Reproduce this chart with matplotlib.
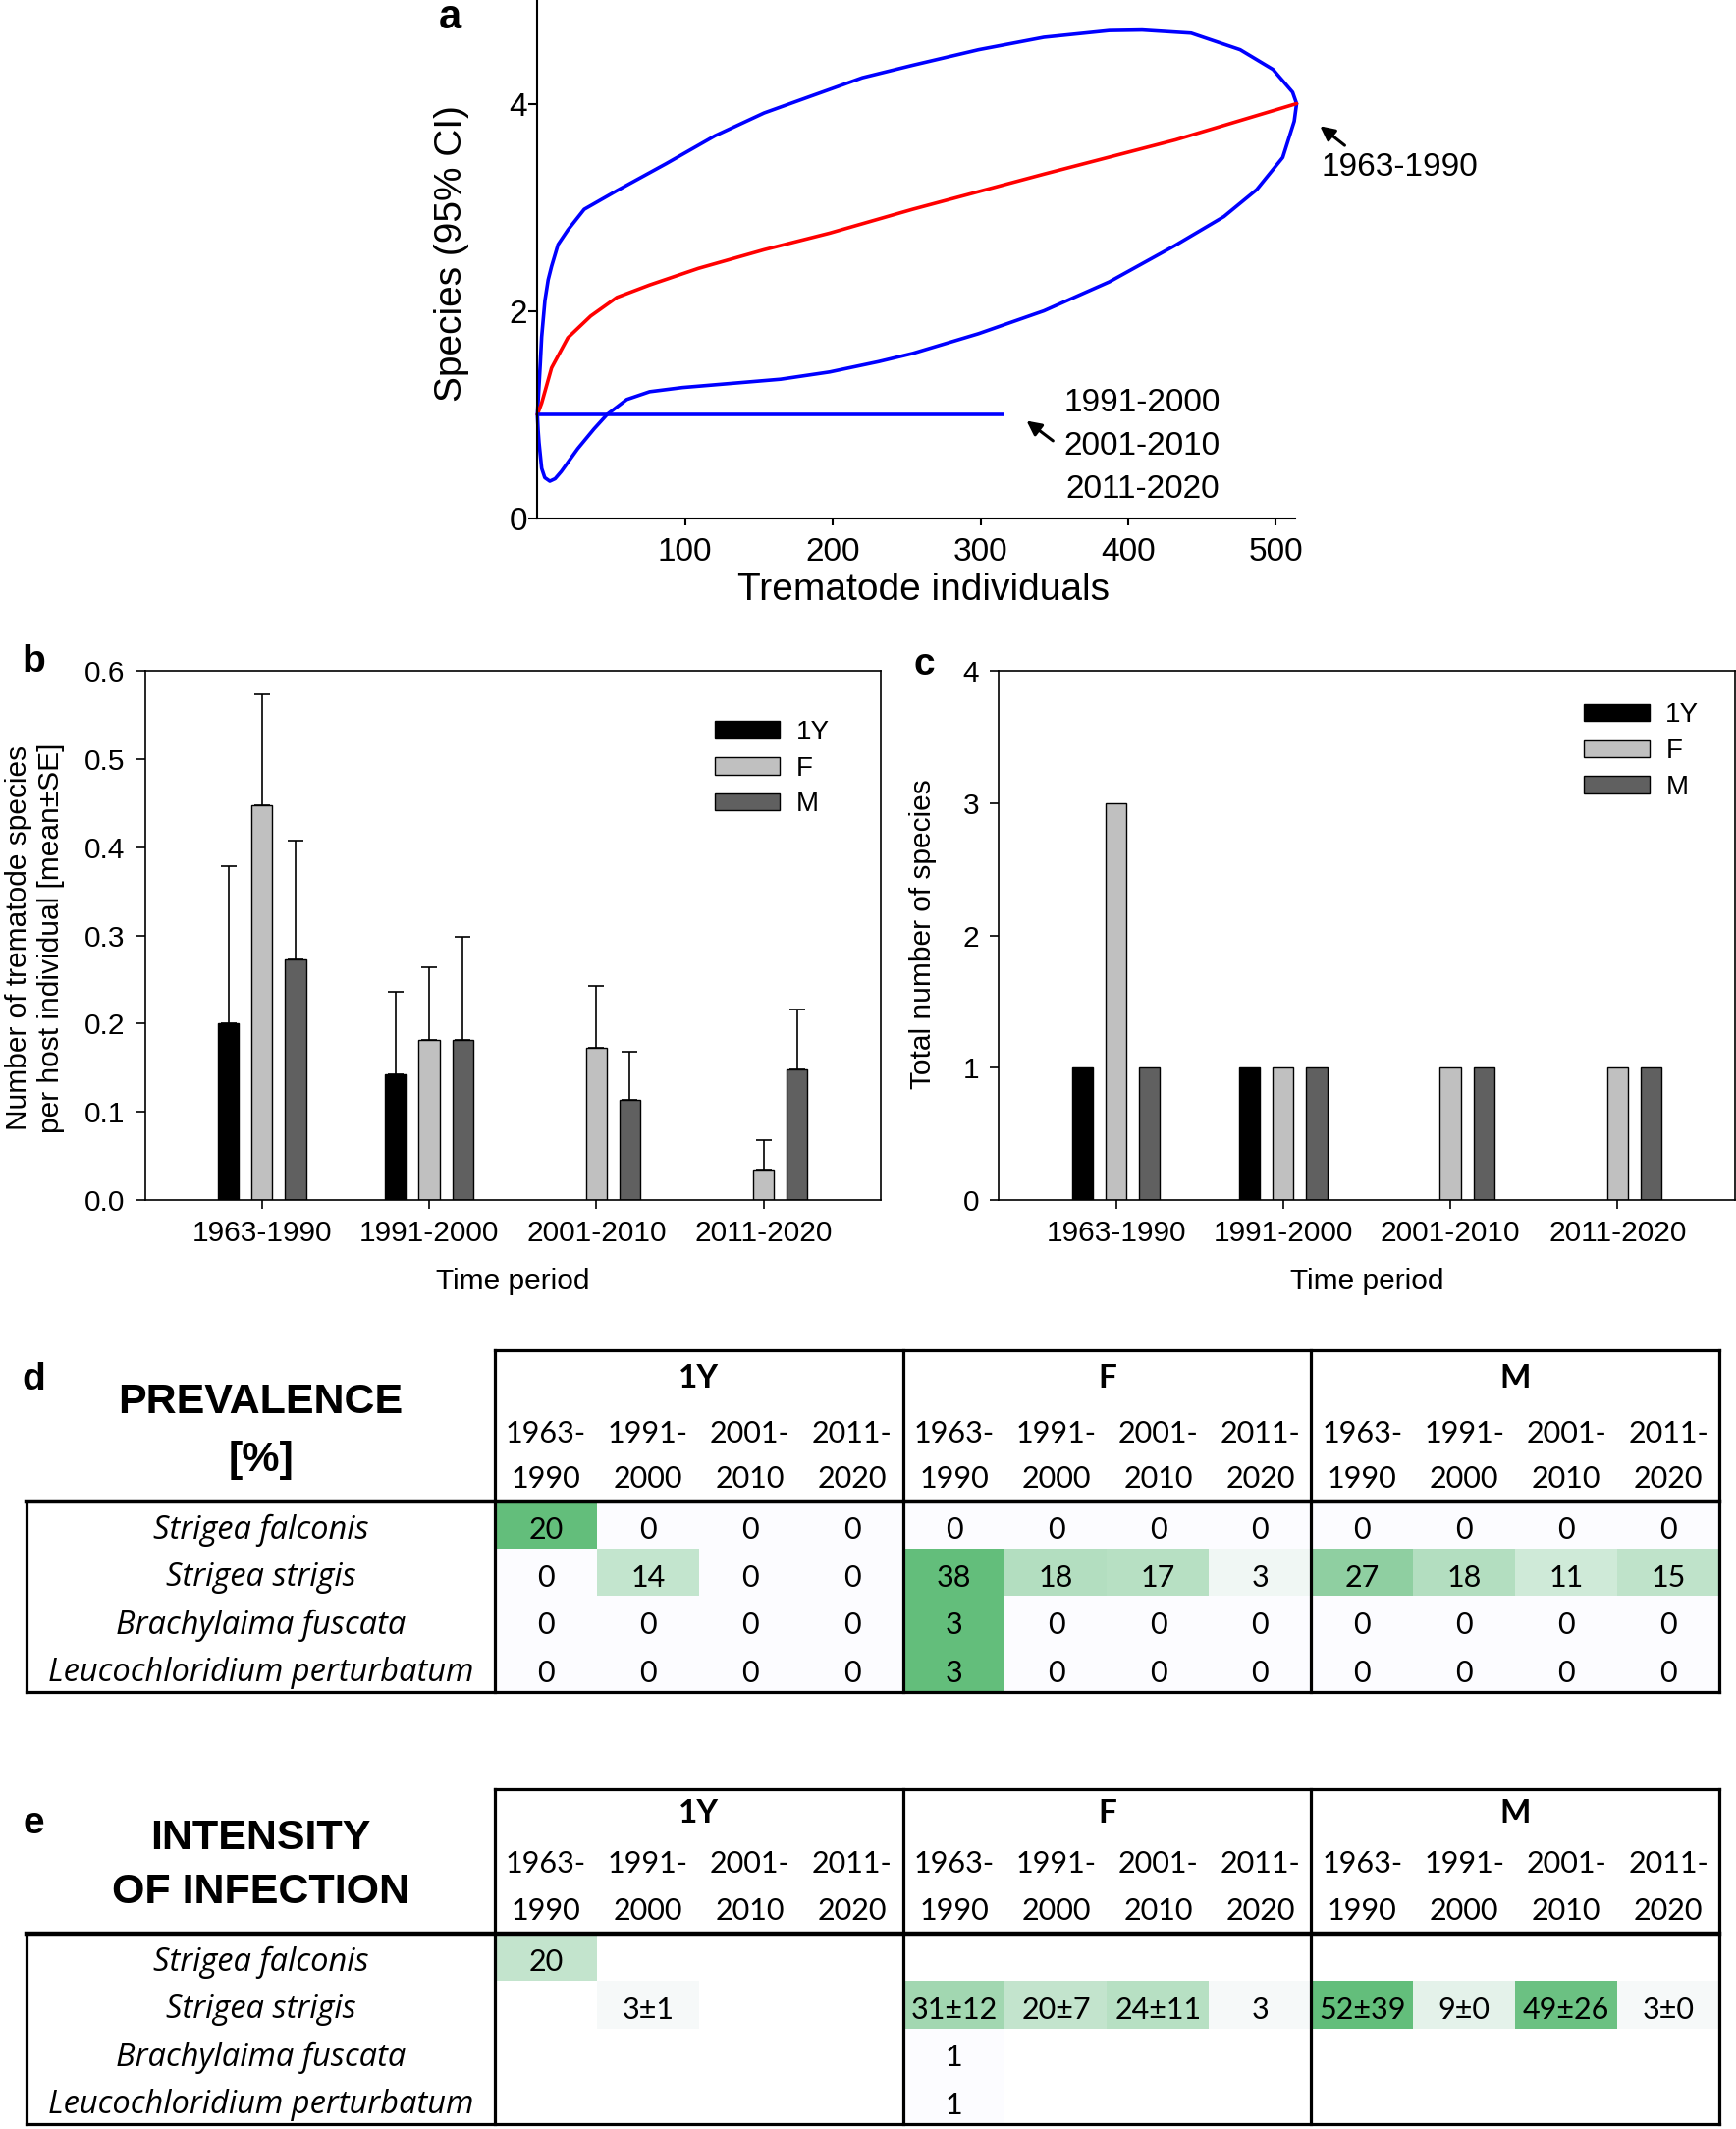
import numpy as np
import matplotlib
matplotlib.use("Agg")
import matplotlib.pyplot as plt
from matplotlib.colors import LinearSegmentedColormap

# ---------------- data ----------------
# panel a : rarefaction (1963-1990) with 95% CI; other periods flat at 1 species
rare_x = [0, 2.9, 9.6, 20.6, 36.1, 53.8, 76, 109, 153.5, 197.8, 254, 343, 432, 514]
rare_y = [1.00, 1.11, 1.45, 1.74, 1.95, 2.13, 2.25, 2.41, 2.59, 2.75, 2.98, 3.32, 3.65, 4.00]
ci_upper_x = [0, 1.0, 2.0, 2.9, 5.1, 7.3, 9.6, 14.0, 20.6, 31.7, 53.8, 87.1, 120.3,
              153.5, 186.7, 220, 254, 298.7, 342.9, 387.2, 409.4, 442.6, 475.8, 498,
              511.3, 514]
ci_upper_y = [1.00, 1.25, 1.50, 1.75, 2.10, 2.30, 2.43, 2.64, 2.78, 2.98, 3.16, 3.42,
              3.69, 3.91, 4.08, 4.25, 4.37, 4.52, 4.64, 4.705, 4.71, 4.68, 4.52, 4.33,
              4.11, 4.00]
ci_lower_x = [0, 0.5, 1.1, 2.9, 5.0, 8.4, 12, 16.2, 27.3, 38.3, 47.2, 60.5, 76, 98.2,
              131.4, 164.6, 197.8, 231, 254.3, 298.7, 342.9, 387.2, 431.6, 464.8, 487,
              504.6, 512.4, 514]
ci_lower_y = [1.00, 0.85, 0.73, 0.48, 0.39, 0.356, 0.38, 0.45, 0.67, 0.86, 1.00, 1.145,
              1.22, 1.26, 1.30, 1.34, 1.41, 1.51, 1.59, 1.78, 2.00, 2.28, 2.63, 2.91,
              3.17, 3.48, 3.83, 4.00]
other_x = [0, 315]
other_y = [1, 1]

# panels b, c
periods = ["1963-1990", "1991-2000", "2001-2010", "2011-2020"]
groups = ["1Y", "F", "M"]
group_colors = ["#000000", "#c0c0c0", "#606060"]
mean_1Y = [0.200, 0.143, 0.0, 0.0]
mean_F = [0.448, 0.182, 0.173, 0.035]
mean_M = [0.273, 0.182, 0.114, 0.148]
se_1Y = [0.178, 0.093, 0.0, 0.0]
se_F = [0.125, 0.082, 0.070, 0.033]
se_M = [0.134, 0.116, 0.054, 0.068]
total_1Y = [1, 1, 0, 0]
total_F = [3, 1, 1, 1]
total_M = [1, 1, 1, 1]

# panels d, e
species = ["Strigea falconis", "Strigea strigis", "Brachylaima fuscata",
           "Leucochloridium perturbatum"]
prevalence = [
    [20, 0, 0, 0, 0, 0, 0, 0, 0, 0, 0, 0],
    [0, 14, 0, 0, 38, 18, 17, 3, 27, 18, 11, 15],
    [0, 0, 0, 0, 3, 0, 0, 0, 0, 0, 0, 0],
    [0, 0, 0, 0, 3, 0, 0, 0, 0, 0, 0, 0],
]
N = None
intensity_mean = [
    [20, N, N, N, N, N, N, N, N, N, N, N],
    [N, 3, N, N, 31, 20, 24, 3, 52, 9, 49, 3],
    [N, N, N, N, 1, N, N, N, N, N, N, N],
    [N, N, N, N, 1, N, N, N, N, N, N, N],
]
intensity_se = [
    [N, N, N, N, N, N, N, N, N, N, N, N],
    [N, 1, N, N, 12, 7, 11, N, 39, 0, 26, 0],
    [N, N, N, N, N, N, N, N, N, N, N, N],
    [N, N, N, N, N, N, N, N, N, N, N, N],
]

# ---------------- figure ----------------
W, H = 1768, 2168
fig = plt.figure(figsize=(W / 100, H / 100), dpi=100)
SANS = ["Liberation Sans", "DejaVu Sans"]
TAB = ["Lato", "DejaVu Sans"]
ITAL = ["Open Sans", "Lato", "DejaVu Sans"]
plt.rcParams["font.family"] = SANS


def px_axes(left, top, right, bottom):
    return fig.add_axes([left / W, 1 - bottom / H, (right - left) / W, (bottom - top) / H])


# ---------------- panel a ----------------
ax = px_axes(547.3, 0, 1319, 527.6)
lk = dict(lw=2.6, solid_joinstyle="round", solid_capstyle="round")
ax.plot(ci_upper_x, ci_upper_y, color="#0000ff", clip_on=False, **lk)
ax.plot(ci_lower_x, ci_lower_y, color="#0000ff", clip_on=False, **lk)
ax.plot(rare_x, rare_y, color="#ff0000", clip_on=False, **lk)
ax.plot(other_x, other_y, color="#0000ff", lw=2.6)
ax.set_xlim(0, 513)
ax.set_ylim(0, 5)
for s in ["top", "right"]:
    ax.spines[s].set_visible(False)
for s in ["left", "bottom"]:
    ax.spines[s].set_linewidth(1.5)
ax.set_yticks([0, 2, 4])
ax.set_xticks([100, 200, 300, 400, 500])
ax.tick_params(axis="y", direction="out", length=6.5, width=1.5, pad=1, labelsize=24)
ax.tick_params(axis="x", direction="out", length=5, width=1.5, pad=9, labelsize=24)
ax.set_ylabel("Species (95% CI)", fontsize=28, ha="center", va="center")
ax.yaxis.set_label_coords(-0.113, 0.511)
ax.set_xlabel("Trematode individuals", fontsize=28, ha="center", va="center")
ax.xaxis.set_label_coords(0.509, -0.139)
arrow = dict(arrowstyle="-|>", color="black", lw=2.2, mutation_scale=22)
ax.annotate("", xy=(528.4, 3.80), xytext=(548, 3.58), arrowprops=arrow, annotation_clip=False)
ax.text(584, 3.38, "1963-1990", fontsize=24, ha="center", va="center")
ax.annotate("", xy=(329.7, 0.955), xytext=(350.5, 0.73), arrowprops=arrow, annotation_clip=False)
for lab, yy in zip(periods[1:], [1.109, 0.69, 0.28]):
    ax.text(409.5, yy, lab, fontsize=24, ha="center", va="center")
fig.text(458 / W, 1 - 18 / H, "a", fontsize=30, fontweight="bold", ha="center", va="center")

# ---------------- panels b, c ----------------
xpos = np.arange(len(periods))
offsets = [-0.2, 0.0, 0.2]
bw = 0.125


def bar_panel(box, series, errs, ylim, yticks, yfmt, ylabel, ylab_xy, leg_anchor, letter, letter_xy):
    axb = px_axes(*box)
    handles = []
    for k, (g, col) in enumerate(zip(groups, group_colors)):
        vals = np.array(series[k], dtype=float)
        m = vals > 0
        h = axb.bar(xpos[m] + offsets[k], vals[m], width=bw, color=col,
                    edgecolor="black", linewidth=1.0, label=g, zorder=2)
        handles.append(h)
        if errs is not None:
            e = np.array(errs[k], dtype=float)
            axb.errorbar(xpos[m] + offsets[k], vals[m], yerr=[np.zeros(m.sum()), e[m]],
                         fmt="none", ecolor="black", elinewidth=1.2, capsize=6,
                         capthick=1.2, zorder=3)
    axb.set_xlim(-0.7, 3.7)
    axb.set_ylim(*ylim)
    axb.set_yticks(yticks)
    axb.set_yticklabels([yfmt.format(v) for v in yticks])
    axb.set_xticks(xpos)
    axb.set_xticklabels(periods)
    for s in axb.spines.values():
        s.set_linewidth(1.2)
    axb.tick_params(direction="out", length=6.5, width=1.2, pad=8, labelsize=21.5,
                    top=False, right=False)
    axb.set_ylabel(ylabel, fontsize=21.5, ha="center", va="center", linespacing=1.25)
    axb.yaxis.set_label_coords(*ylab_xy)
    axb.set_xlabel("Time period", fontsize=21.5, ha="center", va="center")
    axb.xaxis.set_label_coords(0.5, -0.154)
    axb.legend(handles=handles, labels=groups, loc="upper left",
               bbox_to_anchor=(leg_anchor[0] / W, 1 - leg_anchor[1] / H),
               bbox_transform=fig.transFigure, frameon=False, fontsize=20,
               borderaxespad=0, borderpad=0, handlelength=2.4, handleheight=0.6,
               handletextpad=0.6, labelspacing=0.39)
    fig.text(letter_xy[0] / W, 1 - letter_xy[1] / H, letter, fontsize=28,
             fontweight="bold", ha="center", va="center")
    return axb


bar_panel((147.6, 683, 896.9, 1222), [mean_1Y, mean_F, mean_M], [se_1Y, se_F, se_M],
          (0, 0.6), [0, 0.1, 0.2, 0.3, 0.4, 0.5, 0.6], "{:.1f}",
          "Number of trematode species\nper host individual [mean±SE]", (-0.1496, 0.495),
          (727.6, 732.7), "b", (34, 674))
bar_panel((1017.3, 683, 1766.6, 1222), [total_1Y, total_F, total_M], None,
          (0, 4), [0, 1, 2, 3, 4], "{:d}", "Total number of species", (-0.103, 0.503),
          (1613, 715.4), "c", (941, 677))

# ---------------- panels d, e ----------------
cmap = LinearSegmentedColormap.from_list("xl", ["#FCFCFF", "#63BE7B"])
COLW = (1751 - 504) / 12.0
ROWH = 48.5
SPX = -(504 - 27) / COLW
DY = 0.1  # text nudge inside cells


def draw_table(body_top, header_top, texts, rgb, title_lines, title_ys, letter, letter_y, hdr_ys):
    axt = px_axes(504, body_top, 1751, body_top + 4 * ROWH)
    axt.imshow(rgb, extent=(0, 12, 4, 0), aspect="auto", interpolation="nearest", zorder=0)
    axt.set_xlim(0, 12)
    axt.set_ylim(4, 0)
    axt.axis("off")
    htop = -(body_top - header_top) / ROWH
    lw = 2.3
    kw = dict(color="black", lw=lw, clip_on=False, solid_capstyle="projecting", zorder=5)
    axt.plot([0, 12], [htop, htop], **kw)
    for xv in [0, 4, 8, 12]:
        axt.plot([xv, xv], [htop, 4], **kw)
    axt.plot([SPX, SPX], [0, 4], **kw)
    axt.plot([SPX, 12], [0, 0], color="black", lw=3.2, clip_on=False,
             solid_capstyle="projecting", zorder=5)
    axt.plot([SPX, 12], [4, 4], **kw)
    for gi, g in enumerate(groups):
        axt.text(4 * gi + 2, hdr_ys[0], g, fontsize=24, fontweight="bold", family=TAB,
                 ha="center", va="center")
        for pi, p in enumerate(periods):
            a, b = p.split("-")
            axt.text(4 * gi + pi + 0.5, hdr_ys[1], a + "-", fontsize=22, family=TAB,
                     ha="center", va="center")
            axt.text(4 * gi + pi + 0.5, hdr_ys[2], b, fontsize=22, family=TAB,
                     ha="center", va="center")
    for i, sp in enumerate(species):
        axt.text(SPX / 2, i + 0.5 + DY, sp, fontsize=23.5, family=ITAL, fontstyle="italic",
                 ha="center", va="center")
        for j in range(12):
            if texts[i][j]:
                axt.text(j + 0.5, i + 0.5 + DY, texts[i][j], fontsize=22, family=TAB,
                         ha="center", va="center")
    for t, yy in zip(title_lines, title_ys):
        axt.text(SPX / 2, yy + 0.07, t, fontsize=31, fontweight="bold", family=SANS,
                 ha="center", va="center")
    axt.text(SPX + 0.07, letter_y, letter, fontsize=28, fontweight="bold", family=SANS,
             ha="center", va="center")


# prevalence: colour scale per row (min -> white, max -> green)
prev = np.array(prevalence, dtype=float)
prev_rgb = np.zeros((4, 12, 3))
prev_txt = []
for i in range(4):
    lo, hi = prev[i].min(), prev[i].max()
    for j in range(12):
        prev_rgb[i, j] = cmap((prev[i, j] - lo) / (hi - lo))[:3]
    prev_txt.append([str(int(v)) for v in prev[i]])
draw_table(1529, 1375, prev_txt, prev_rgb, ["PREVALENCE", "[%]"], [-2.144, -0.942],
           "d", -2.56, [-2.59, -1.42, -0.48])

# intensity: global colour scale over the means, blanks left white
allm = [v for row in intensity_mean for v in row if v is not None]
lo, hi = min(allm), max(allm)
int_rgb = np.ones((4, 12, 3))
int_txt = []
for i in range(4):
    row = []
    for j in range(12):
        m = intensity_mean[i][j]
        s = intensity_se[i][j]
        if m is None:
            row.append("")
            continue
        int_rgb[i, j] = cmap((m - lo) / (hi - lo))[:3]
        row.append(f"{m}±{s}" if s is not None else f"{m}")
    int_txt.append(row)
draw_table(1969, 1821.7, int_txt, int_rgb, ["INTENSITY", "OF INFECTION"], [-2.076, -0.942],
           "e", -2.31, [-2.52, -1.46, -0.48])

fig.savefig("out.png", dpi=100, facecolor="white")
